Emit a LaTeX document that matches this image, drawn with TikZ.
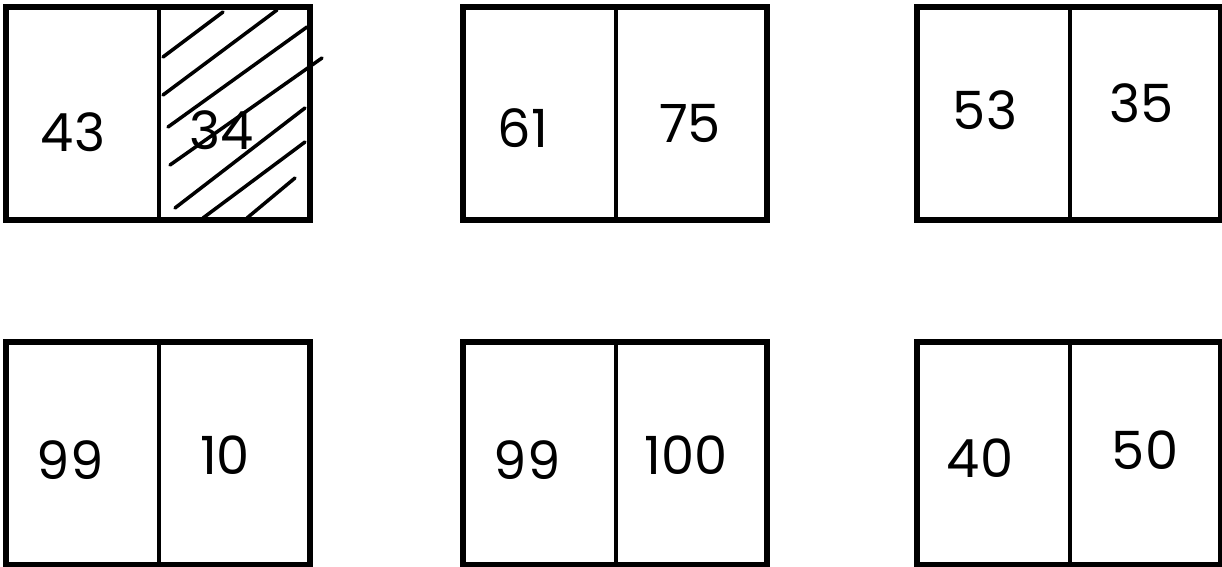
\documentclass[tikz,border=0pt]{standalone}
\usepackage{fontspec}
\setmainfont{Poppins}
\begin{document}
\begin{tikzpicture}[x=0.02cm,y=-0.02cm,line cap=round,
  frame/.style={line width=3.2pt},
  split/.style={line width=2.6pt},
  hatch/.style={line width=2pt},
  num/.style={font=\fontsize{30}{34}\selectfont}]
\useasboundingbox (0,0) rectangle (1222,567);
% boxes, top row and bottom row
\foreach \x in {6,463,917}{
    \draw[frame] (\x,7) rectangle ++(304,213);
    \draw[split] (\x+153,7)--++(0,213);
    \draw[frame] (\x,342) rectangle ++(304,223);
    \draw[split] (\x+153,342)--++(0,223);
}
% shading of the second half
\draw[hatch] (163,57)--(223,12);
\draw[hatch] (163,95)--(277,10);
\draw[hatch] (168,127)--(307,27);
\draw[hatch] (170,165)--(322,58);
\draw[hatch] (175,208)--(305,108);
\draw[hatch] (203,218)--(305,142);
\draw[hatch] (247,218)--(295,178);
% numbers
\node[num] (a1) at (73,132) {43};
\node[num] (a2) at (222,130) {34};
\node[num] (b1) at (523,128) {61};
\node[num] (b2) at (690,123) {75};
\node[num] (c1) at (985,110) {53};
\node[num] (c2) at (1142,103) {35};
\node[num] (d1) at (70,460) {99};
\node[num] (d2) at (225,455) {10};
\node[num] (e1) at (527,460) {99};
\node[num] (e2) at (686,455) {100};
\node[num] (f1) at (980,458) {40};
\node[num] (f2) at (1145,450) {50};
\end{tikzpicture}
\end{document}
